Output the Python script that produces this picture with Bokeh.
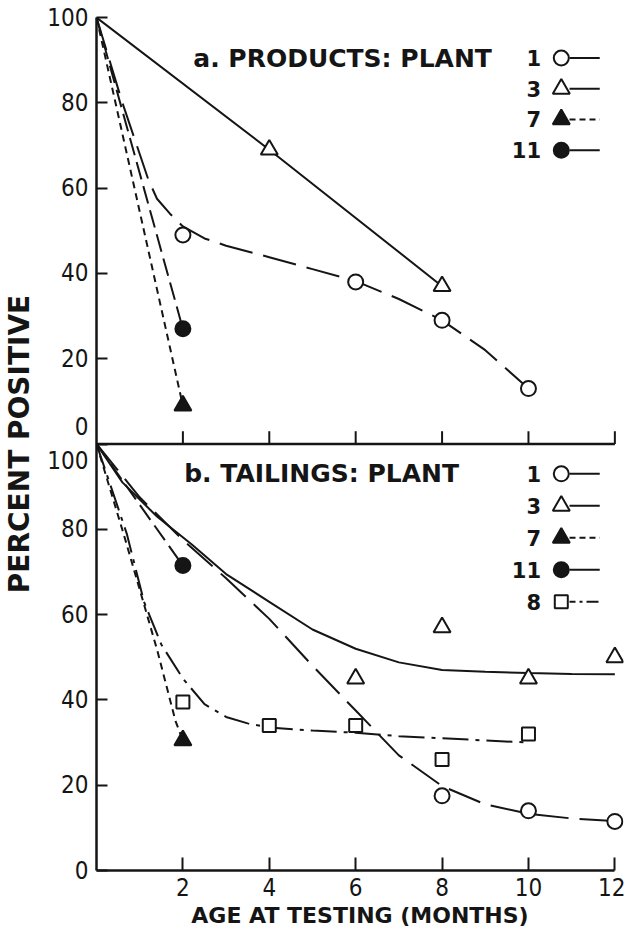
from bokeh.plotting import figure
from bokeh.models import Range1d, FixedTicker, Label
from bokeh.core.properties import value
from bokeh.embed import file_html
from bokeh.resources import INLINE

# ---------------- data ----------------
age_ticks = [2, 4, 6, 8, 10, 12]
pct_ticks = [0, 20, 40, 60, 80, 100]
start_age = 0
start_pct = 100

# a. PRODUCTS - measured points
prod_p1_age = [2, 6, 8, 10]
prod_p1_pct = [49, 38, 29, 13]
prod_p3_age = [4, 8]
prod_p3_pct = [69, 37]
prod_p7_age = [2]
prod_p7_pct = [9]
prod_p11_age = [2]
prod_p11_pct = [27]

# a. PRODUCTS - hand-drawn curve for plant 1
prod_p1_curve_age = [0, 0.6, 1.2, 1.4, 1.7, 2, 2.5, 3, 4, 5, 6, 7, 8, 9, 10]
prod_p1_curve_pct = [100, 80, 62, 57.5, 54, 51, 48.2, 46.5, 43.8, 41, 38.2, 34, 29, 22, 13]

# b. TAILINGS - measured points
tail_p1_age = [8, 10, 12]
tail_p1_pct = [17.5, 14, 11.5]
tail_p3_age = [6, 8, 10, 12]
tail_p3_pct = [45, 57, 45, 50]
tail_p7_age = [2]
tail_p7_pct = [30.5]
tail_p11_age = [2]
tail_p11_pct = [71.5]
tail_p8_age = [2, 4, 6, 8, 10]
tail_p8_pct = [39.5, 34, 34, 26, 32]

# b. TAILINGS - hand-drawn curves
tail_p3_curve_age = [0, 0.6, 1.4, 2.2, 3, 4, 5, 6, 7, 8, 9, 10, 11, 12]
tail_p3_curve_pct = [100, 91, 83, 76.5, 69.5, 63, 56.5, 52, 48.8, 47, 46.6, 46.3, 46.1, 46]
tail_p1_curve_age = [0, 1, 2, 3, 4, 5, 6, 7, 8, 9, 10, 11, 12]
tail_p1_curve_pct = [100, 87.5, 77.5, 68.5, 59, 48, 37.5, 27, 19.8, 15.5, 13.3, 12.2, 11.6]
tail_p7_curve_age = [0, 0.64, 1.41, 1.83, 2]
tail_p7_curve_pct = [100, 78.5, 51.5, 35, 30.5]
tail_p8_curve_age = [0, 0.7, 1.1, 1.5, 2, 2.5, 3, 3.5, 4, 5, 6, 7, 8, 9, 10]
tail_p8_curve_pct = [100, 79, 63, 53, 45, 39, 36, 34.5, 33.5, 32.8, 32.3, 31.5, 31, 30.5, 30]

prod_legend_plants = ["1", "3", "7", "11"]
tail_legend_plants = ["1", "3", "7", "11", "8"]

# ---------------- styles ----------------
INK = "#151515"
NUM_FONT = "Liberation Sans Narrow, DejaVu Sans Condensed, sans-serif"
BOLD_FONT = "DejaVu Sans"
SOLID = "solid"
SHORT_DASH = "7 5"
LONG_DASH = "34 11"
MID_DASH = "18 7"
DASH_DOT = "26 7 4 7"

MARKERS = {
    "1": dict(marker="circle", size=15, fill_color="white"),
    "3": dict(marker="triangle", size=17, fill_color="white"),
    "7": dict(marker="triangle", size=17, fill_color=INK),
    "11": dict(marker="circle", size=15, fill_color=INK),
    "8": dict(marker="square", size=13, fill_color="white"),
}
LEGEND_DASH = {"1": SOLID, "3": SOLID, "7": "6 4", "11": SOLID, "8": "6 4 3 4 12"}

x_end = age_ticks[-1]
p = figure(width=625, height=935,
           x_range=Range1d(start_age, x_end + 0.2), y_range=Range1d(0, 200),
           output_backend="svg", toolbar_location=None,
           min_border_left=95, min_border_right=2,
           min_border_top=17, min_border_bottom=65)
p.extra_y_ranges = {"top": Range1d(-100, 100)}
p.grid.visible = False
p.outline_line_color = None
p.background_fill_color = "white"
p.border_fill_color = "white"

# ---- x axis (bottom panel) ----
xa = p.xaxis[0]
xa.bounds = (start_age, x_end)
xa.ticker = FixedTicker(ticks=age_ticks)
xa.major_tick_in = 13
xa.major_tick_out = 0
xa.minor_tick_in = 0
xa.minor_tick_out = 0
xa.axis_line_width = 2.5
xa.axis_line_color = INK
xa.major_tick_line_width = 2
xa.major_tick_line_color = INK
xa.major_label_text_font = NUM_FONT
xa.major_label_text_font_size = "24px"
xa.major_label_text_color = INK
xa.major_label_standoff = 7
xa.axis_label = "AGE AT TESTING (MONTHS)"
xa.axis_label_text_font = BOLD_FONT
xa.axis_label_text_font_style = "bold"
xa.axis_label_text_font_size = "22px"
xa.axis_label_text_color = INK
xa.axis_label_standoff = 4

# ---- y axis: bottom panel 0..100, top panel 0..100 on upper half ----
top_ticks = [t + 100 for t in pct_ticks]
ya = p.yaxis[0]
ya.ticker = FixedTicker(ticks=sorted(set(pct_ticks + top_ticks)))
overrides = {t + 100: str(t) for t in pct_ticks}
overrides[100] = str(pct_ticks[0]) + "\n" + str(pct_ticks[-1])
ya.major_label_overrides = overrides
ya.major_tick_in = 11
ya.major_tick_out = 0
ya.minor_tick_in = 0
ya.minor_tick_out = 0
ya.axis_line_width = 2.5
ya.axis_line_color = INK
ya.major_tick_line_width = 2
ya.major_tick_line_color = INK
ya.major_label_text_font = NUM_FONT
ya.major_label_text_font_size = "24px"
ya.major_label_text_color = INK
ya.major_label_standoff = 8
ya.axis_label = "PERCENT POSITIVE"
ya.axis_label_text_font = BOLD_FONT
ya.axis_label_text_font_style = "bold"
ya.axis_label_text_font_size = "28px"
ya.axis_label_text_color = INK
ya.axis_label_standoff = 8

# top panel's own x axis line with inward ticks
p.segment(x0=[start_age], x1=[x_end], y0=[0], y1=[0], y_range_name="top",
          line_color=INK, line_width=2.5)
p.segment(x0=age_ticks, x1=age_ticks, y0=[0] * len(age_ticks), y1=[3] * len(age_ticks),
          y_range_name="top", line_color=INK, line_width=2)


def curve(xs, ys, dash, rng="default", lw=2):
    p.line(xs, ys, line_color=INK, line_width=lw, line_dash=dash, y_range_name=rng)


def points(xs, ys, plant, rng="default"):
    m = MARKERS[plant]
    p.scatter(xs, ys, marker=m["marker"], size=m["size"], fill_color=m["fill_color"],
              line_color=INK, line_width=2, y_range_name=rng)


# ---- a. PRODUCTS ----
curve([start_age] + prod_p3_age, [start_pct] + prod_p3_pct, SOLID, "top")
curve(prod_p1_curve_age, prod_p1_curve_pct, LONG_DASH, "top")
curve([start_age] + prod_p11_age, [start_pct] + prod_p11_pct, MID_DASH, "top")
curve([start_age] + prod_p7_age, [start_pct] + prod_p7_pct, SHORT_DASH, "top")
points(prod_p1_age, prod_p1_pct, "1", "top")
points(prod_p3_age, prod_p3_pct, "3", "top")
points(prod_p7_age, prod_p7_pct, "7", "top")
points(prod_p11_age, prod_p11_pct, "11", "top")

# ---- b. TAILINGS ----
curve(tail_p3_curve_age, tail_p3_curve_pct, SOLID)
curve(tail_p1_curve_age, tail_p1_curve_pct, LONG_DASH)
curve([start_age] + tail_p11_age, [start_pct] + tail_p11_pct, MID_DASH)
curve(tail_p7_curve_age, tail_p7_curve_pct, SHORT_DASH)
curve(tail_p8_curve_age, tail_p8_curve_pct, DASH_DOT)
points(tail_p1_age, tail_p1_pct, "1")
points(tail_p3_age, tail_p3_pct, "3")
points(tail_p7_age, tail_p7_pct, "7")
points(tail_p11_age, tail_p11_pct, "11")
points(tail_p8_age, tail_p8_pct, "8")

# ---- panel titles ----
p.add_layout(Label(x=2.24, y=90.5, y_range_name="top", text="a. PRODUCTS: PLANT",
                   text_baseline="middle", text_font=BOLD_FONT, text_font_style="bold",
                   text_font_size="25px", text_color=INK))
p.add_layout(Label(x=2.03, y=93, text="b. TAILINGS: PLANT",
                   text_baseline="middle", text_font=BOLD_FONT, text_font_style="bold",
                   text_font_size="25px", text_color=INK))


# ---- legends (number, marker, line sample) ----
def legend(plants, y0, step, rng="default"):
    n = len(plants)
    ys = [y0 - i * step for i in range(n)]
    p.text(x=[10.29] * n, y=ys, text=plants, text_align="right", text_baseline="middle",
           text_font=value(BOLD_FONT), text_font_style="bold", text_font_size="21px",
           text_color=INK, y_range_name=rng)
    for plant, y in zip(plants, ys):
        p.segment(x0=[10.95], x1=[11.65], y0=[y], y1=[y], line_color=INK, line_width=2,
                  line_dash=LEGEND_DASH[plant], y_range_name=rng)
        points([10.76], [y], plant, rng)


legend(prod_legend_plants, 90.5, 7.2, "top")
legend(tail_legend_plants, 93, 7.5)

open("out.html", "w").write(file_html(p, INLINE))
